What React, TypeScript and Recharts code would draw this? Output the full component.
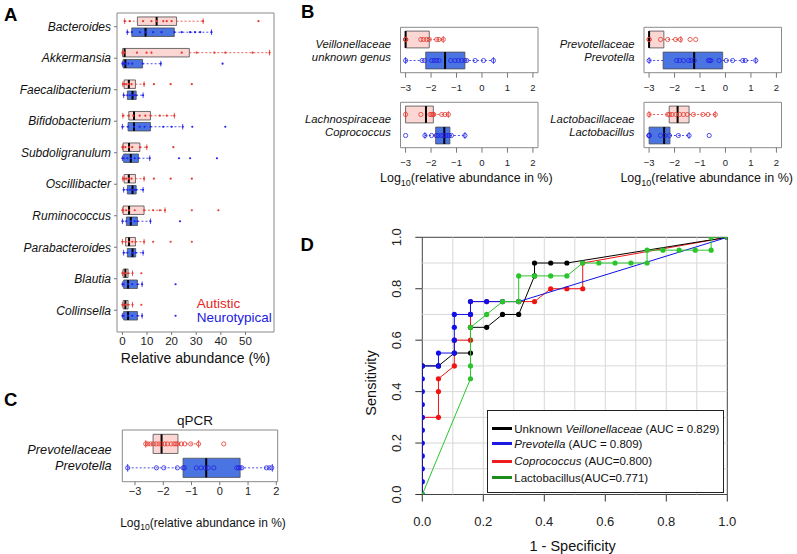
import { ScatterChart, Scatter, XAxis, YAxis, ReferenceArea, ReferenceLine, Legend } from "recharts";

const FONT = '"Liberation Sans", Arial, Helvetica, sans-serif';

const RED = "#e4392f";
const BLUE = "#2323e6";
const PINK_FILL = "#fcd6d3";
const BLUE_FILL = "#4a74e2";
const BOX_EDGE = "#4d4d4d";
const FRAME = "#8a8a8a";

// ---- A: relative abundance (%) of the top genera
const genera = [
  "Bacteroides", "Akkermansia", "Faecalibacterium", "Bifidobacterium", "Subdoligranulum",
  "Oscillibacter", "Ruminococcus", "Parabacteroides", "Blautia", "Collinsella",
];
// [whisker low, Q1, median, Q3, whisker high]
const autisticBoxA = [
  [0.9, 6.1, 13.9, 22.0, 32.8],
  [0.0, 0.1, 0.9, 27.2, 59.8],
  [0.2, 0.7, 2.6, 5.3, 8.8],
  [0.2, 2.6, 4.7, 11.4, 21.1],
  [0.0, 0.3, 2.7, 7.1, 9.9],
  [0.2, 0.7, 2.6, 5.3, 8.8],
  [0.0, 0.3, 2.7, 8.8, 17.3],
  [0.0, 1.3, 2.7, 5.3, 8.8],
  [0.0, 0.3, 1.2, 2.3, 4.1],
  [0.0, 0.3, 1.2, 2.3, 4.1],
];
const neuroBoxA = [
  [2.0, 3.8, 9.4, 21.1, 36.2],
  [0.0, 0.3, 1.2, 8.2, 15.6],
  [0.5, 2.0, 4.1, 5.6, 8.4],
  [0.0, 2.3, 4.7, 11.4, 24.5],
  [0.0, 0.5, 3.4, 6.5, 11.1],
  [0.5, 2.0, 4.1, 5.6, 8.4],
  [0.0, 1.6, 3.4, 6.1, 11.4],
  [0.5, 2.0, 4.1, 5.4, 8.4],
  [0.0, 0.5, 2.3, 6.1, 8.0],
  [0.0, 0.5, 2.3, 6.1, 8.0],
];
const autisticPtsA = [
  [0.9, 3.0, 8.4, 11.8, 13.9, 16.6, 18.0, 20.0, 32.8, 55.3],
  [0.0, 0.3, 0.9, 5.9, 9.8, 11.8, 24.1, 30.2, 37.4, 41.8, 52.9, 59.8],
  [0.2, 0.7, 1.5, 2.6, 3.7, 8.8, 12.8, 19.6, 28.2],
  [0.2, 2.6, 4.4, 7.0, 9.3, 11.4, 15.2, 18.0, 21.1],
  [0.0, 0.3, 1.2, 2.7, 4.0, 7.1, 9.9, 20.7],
  [0.2, 0.7, 1.5, 2.6, 3.7, 8.8, 12.8, 19.6, 28.2],
  [0.0, 0.3, 1.5, 2.7, 5.0, 8.8, 12.5, 15.2, 17.3, 28.2, 39.0],
  [0.0, 1.3, 2.7, 4.0, 5.3, 8.8, 12.5, 19.6, 28.2],
  [0.0, 0.3, 1.2, 2.3, 4.1, 7.7],
  [0.0, 0.3, 1.2, 2.3, 4.1, 7.7],
];
const neuroPtsA = [
  [2.0, 3.8, 7.1, 9.4, 12.5, 15.9, 21.1, 24.1, 27.5, 29.5, 31.6, 36.2],
  [0.0, 0.3, 0.8, 1.2, 2.5, 4.0, 8.2, 15.6, 40.7],
  [0.5, 2.0, 3.0, 4.1, 5.0, 5.6, 8.4],
  [0.0, 2.3, 4.7, 7.0, 9.0, 11.4, 16.6, 20.0, 24.5, 28.4, 41.8],
  [0.0, 0.5, 2.0, 3.4, 5.0, 6.5, 11.1, 23.0, 27.5, 38.4],
  [0.5, 2.0, 3.0, 4.1, 5.0, 5.6, 8.4],
  [0.0, 1.6, 3.4, 5.0, 6.1, 11.4, 23.4],
  [0.5, 2.0, 4.1, 5.4, 8.4],
  [0.0, 0.5, 2.3, 4.0, 6.1, 8.0, 21.6],
  [0.0, 0.5, 2.3, 4.0, 6.1, 8.0, 21.6],
];
const ticksA = [0, 10, 20, 30, 40, 50];

// ---- B: log10 abundance of the four discriminating taxa
const taxaB = [
  ["Veillonellaceae", "unknown genus"],
  ["Prevotellaceae", "Prevotella"],
  ["Lachnospiraceae", "Coprococcus"],
  ["Lactobacillaceae", "Lactobacillus"],
];
const autisticBoxB = [
  [-3, -3, -3, -2.07, -1.52],
  [-3, -3, -3, -2.42, -1.75],
  [-3, -3, -2.2, -1.91, -1.32],
  [-3, -2.21, -1.88, -1.43, -0.4],
];
const neuroBoxB = [
  [-3, -2.21, -1.45, -0.67, 0.45],
  [-3, -2.45, -1.23, -0.11, 1.19],
  [-2.24, -1.82, -1.48, -1.26, -0.67],
  [-3, -3, -2.41, -2.18, -1.43],
];
const autisticPtsB = [
  [-3, -3, -3, -2.4, -2.3, -2.17, -2.07, -1.78, -1.69, -1.52],
  [-3, -3, -2.55, -2.27, -1.96, -1.77, -1.39, -1.17],
  [-3, -2.4, -2.04, -1.98, -1.93, -1.89, -1.58, -1.45, -1.32],
  [-3, -2.27, -2.2, -2.1, -1.95, -1.8, -1.65, -1.5, -1.26, -0.89, -0.69, -0.4],
];
const neuroPtsB = [
  [-3, -2.35, -2.25, -1.98, -1.88, -1.78, -1.68, -1.23, -1.06, -0.93, -0.8, -0.67, -0.6, -0.27, 0.06, 0.45],
  [-3, -1.92, -1.8, -1.65, -1.45, -1.35, -1.23, -0.67, -0.62, -0.57, -0.25, 0.03, 0.28, 0.68, 0.78, 1.19],
  [-3, -2.24, -1.98, -1.8, -1.72, -1.6, -1.5, -1.42, -1.35, -1.28, -1.2, -0.67],
  [-3, -3, -3, -2.55, -2.38, -2.2, -1.85, -1.43, -0.64],
];
const logTicksB = [-3, -2, -1, 0, 1, 2];

// ---- C: qPCR of Prevotella
const taxonC = ["Prevotellaceae", "Prevotella"];
const autisticBoxC = [-2.62, -2.36, -2.06, -1.48, -0.75];
const neuroBoxC = [-3.26, -1.3, -0.48, 0.72, 1.86];
const autisticPtsC = [-2.62, -2.55, -2.45, -2.35, -2.25, -2.15, -2.06, -1.95, -1.85, -1.72, -1.62, -1.55, -1.48, -1.36, -1.24, -1.03, -0.75, 0.14];
const neuroPtsC = [-3.26, -2.24, -1.98, -1.5, -1.3, -1.25, -0.83, -0.66, -0.52, -0.41, -0.21, 0.6, 0.66, 0.72, 0.78, 1.65, 1.75, 1.84];
const logTicksC = [-3, -2, -1, 0, 1, 2];

// ---- D: ROC curves
const fprVeil = [0, 0, 0.053, 0.105, 0.158, 0.158, 0.211, 0.263, 0.316, 0.368, 0.368, 0.421, 0.474, 1];
const tprVeil = [0, 0.5, 0.5, 0.55, 0.55, 0.65, 0.65, 0.7, 0.7, 0.85, 0.9, 0.9, 0.9, 1];
const fprPrev = [0, 0, 0, 0, 0, 0, 0, 0, 0, 0, 0, 0.053, 0.053, 0.105, 0.105, 0.105, 0.105, 0.158, 0.158, 0.211, 0.263, 0.316, 1];
const tprPrev = [0, 0.05, 0.1, 0.15, 0.2, 0.25, 0.3, 0.35, 0.4, 0.45, 0.5, 0.5, 0.55, 0.55, 0.6, 0.65, 0.7, 0.7, 0.75, 0.75, 0.75, 0.75, 1];
const fprCopro = [0, 0, 0.053, 0.053, 0.053, 0.105, 0.105, 0.158, 0.158, 0.158, 0.158, 0.211, 0.263, 0.316, 0.368, 0.421, 0.474, 0.526, 0.526, 1];
const tprCopro = [0, 0.3, 0.3, 0.4, 0.45, 0.5, 0.6, 0.6, 0.65, 0.7, 0.75, 0.75, 0.75, 0.75, 0.75, 0.8, 0.8, 0.8, 0.9, 1];
const fprLacto = [0, 0.158, 0.158, 0.158, 0.211, 0.263, 0.316, 0.316, 0.368, 0.421, 0.474, 0.526, 0.579, 0.632, 0.684, 0.737, 0.737, 0.789, 0.842, 0.895, 0.947, 0.947, 1];
const tprLacto = [0, 0.45, 0.5, 0.65, 0.7, 0.75, 0.75, 0.85, 0.85, 0.85, 0.85, 0.9, 0.9, 0.9, 0.9, 0.9, 0.95, 0.95, 0.95, 0.95, 0.95, 1, 1];
const rocPre = ["Unknown ", "", "", ""];
const rocName = ["Veillonellaceae", "Prevotella", "Coprococcus", "Lactobacillus"];
const rocItalic = [true, true, true, false];
const rocAuc = [" (AUC = 0.829)", " (AUC = 0.809)", " (AUC=0.800)", "(AUC=0.771)"];
const rocColors = ["#000000", "#1010e8", "#f01414", "#2cc42c"];
const rocLegendColors = ["#000000", "#1c1ce0", "#ee1c1c", "#1d8c1d"];
const rocTicks = [0, 0.2, 0.4, 0.6, 0.8, 1];
const rocGrid = [0.1, 0.2, 0.3, 0.4, 0.5, 0.6, 0.7, 0.8, 0.9];

type BoxRow = { y: number; stats: number[]; pts: number[]; autistic: boolean };

const toPoints = (xs: number[], ys: number[]) => xs.map((x, i) => ({ x, y: ys[i] }));
const minus = (v: number) => String(v).replace("-", "\u2212");

function boxMarks(id: string, r: BoxRow, half: number, cap: number) {
  const [lo, q1, med, q3, hi] = r.stats;
  const y = r.y;
  const wc = r.autistic ? RED : BLUE;
  return [
    <ReferenceLine key={id + "wl"} segment={[{ x: lo, y }, { x: q1, y }]} stroke={wc} strokeWidth={0.8} strokeDasharray="2 2" ifOverflow="visible" />,
    <ReferenceLine key={id + "wh"} segment={[{ x: q3, y }, { x: hi, y }]} stroke={wc} strokeWidth={0.8} strokeDasharray="2 2" ifOverflow="visible" />,
    <ReferenceLine key={id + "cl"} segment={[{ x: lo, y: y - cap }, { x: lo, y: y + cap }]} stroke={wc} strokeWidth={0.8} ifOverflow="visible" />,
    <ReferenceLine key={id + "ch"} segment={[{ x: hi, y: y - cap }, { x: hi, y: y + cap }]} stroke={wc} strokeWidth={0.8} ifOverflow="visible" />,
    <ReferenceArea key={id + "b"} x1={q1} x2={q3} y1={y - half} y2={y + half} fill={r.autistic ? PINK_FILL : BLUE_FILL} fillOpacity={1} stroke={BOX_EDGE} strokeWidth={0.8} ifOverflow="visible" />,
    <ReferenceLine key={id + "m"} segment={[{ x: med, y: y - half }, { x: med, y: y + half }]} stroke="#000" strokeWidth={2} ifOverflow="visible" />,
  ];
}

const smallDot = (color: string) => (p: any) => <circle cx={p.cx} cy={p.cy} r={1.1} fill={color} />;
const ring = (color: string) => (p: any) => <circle cx={p.cx} cy={p.cy} r={2.1} fill="none" stroke={color} strokeWidth={0.8} />;

function twoLineTick(lines: string[], fontSize: number, d1: number, d2: number) {
  return (p: any) => (
    <text x={p.x} y={p.y} textAnchor="end" fontSize={fontSize} fontStyle="italic" fill="#111">
      <tspan x={p.x} y={p.y + d1}>{lines[0]}</tspan>
      <tspan x={p.x} y={p.y + d2}>{lines[1]}</tspan>
    </text>
  );
}

type PanelProps = {
  left: number; top: number; width: number; height: number;
  margin: { top: number; right: number; bottom: number; left: number };
  xDomain: [number, number]; yDomain: [number, number];
  xTicks: number[]; yTicks: number[];
  rows: BoxRow[]; half: number; cap: number; rings: boolean;
  xFont: number; xTickSize: number; xTickMargin: number; xFormat?: (v: number) => string;
  yTick: any; yFormat?: (v: number) => string; yTickLine: boolean; yTickSize: number; yTickMargin: number;
};

function BoxPanel(p: PanelProps) {
  const red = p.rows.filter((r) => r.autistic).flatMap((r) => r.pts.map((x) => ({ x, y: r.y })));
  const blue = p.rows.filter((r) => !r.autistic).flatMap((r) => r.pts.map((x) => ({ x, y: r.y })));
  return (
    <div style={{ position: "absolute", left: p.left, top: p.top }}>
      <ScatterChart width={p.width} height={p.height} margin={p.margin}>
        <XAxis type="number" dataKey="x" domain={p.xDomain} ticks={p.xTicks} interval={0} allowDataOverflow
          height={30} axisLine={false} tickLine={{ stroke: "#777" }} tickSize={p.xTickSize} tickMargin={p.xTickMargin}
          tickFormatter={p.xFormat} tick={{ fontSize: p.xFont, fill: "#222" }} />
        <YAxis type="number" dataKey="y" domain={p.yDomain} ticks={p.yTicks} interval={0} allowDataOverflow reversed
          width={100} axisLine={false} tickLine={p.yTickLine ? { stroke: "#777" } : false} tickSize={p.yTickSize}
          tickMargin={p.yTickMargin} tick={p.yTick} tickFormatter={p.yFormat} />
        {p.rows.flatMap((r, i) => boxMarks("r" + i, r, p.half, p.cap))}
        <Scatter data={red} shape={p.rings ? ring(RED) : smallDot(RED)} isAnimationActive={false} />
        <Scatter data={blue} shape={p.rings ? ring(BLUE) : smallDot(BLUE)} isAnimationActive={false} />
        <ReferenceArea x1={p.xDomain[0]} x2={p.xDomain[1]} y1={p.yDomain[0]} y2={p.yDomain[1]} fill="none" stroke={FRAME} strokeWidth={1} ifOverflow="visible" />
      </ScatterChart>
    </div>
  );
}

const rowsA: BoxRow[] = genera.flatMap((_, i) => [
  { y: i - 0.175, stats: autisticBoxA[i], pts: autisticPtsA[i], autistic: true },
  { y: i + 0.175, stats: neuroBoxA[i], pts: neuroPtsA[i], autistic: false },
]);

const pairRows = (aBox: number[], aPts: number[], nBox: number[], nPts: number[]): BoxRow[] => [
  { y: 1, stats: aBox, pts: aPts, autistic: true },
  { y: 2, stats: nBox, pts: nPts, autistic: false },
];

const bPos = [
  { left: 290, top: 0, ml: 10.5, mr: 12 },
  { left: 534, top: 0, ml: 10, mr: 12.5 },
  { left: 290, top: 75, ml: 10.5, mr: 12 },
  { left: 534, top: 75, ml: 10, mr: 12.5 },
];

function RocLegend() {
  const centers = [17.5, 32.7, 50, 66.7];
  return (
    <div style={{ position: "relative", width: 237.3, height: 82.7, border: "1px solid #222", boxSizing: "border-box", background: "#fff", fontFamily: FONT, fontSize: 11.5, color: "#111" }}>
      {rocName.map((n, i) => (
        <div key={n} style={{ position: "absolute", left: 4, top: centers[i] - 8, height: 16, display: "flex", alignItems: "center", whiteSpace: "pre" }}>
          <span style={{ display: "inline-block", width: 20, height: 3, background: rocLegendColors[i], marginRight: 2.6 }} />
          <span style={{ whiteSpace: "pre" }}>{rocPre[i]}</span>
          <span style={{ fontStyle: rocItalic[i] ? "italic" : "normal" }}>{n}</span>
          <span style={{ whiteSpace: "pre" }}>{rocAuc[i]}</span>
        </div>
      ))}
    </div>
  );
}

const rocSeries = [
  { name: rocName[2], pts: toPoints(fprCopro, tprCopro), color: rocColors[2] },
  { name: rocName[0], pts: toPoints(fprVeil, tprVeil), color: rocColors[0] },
  { name: rocName[1], pts: toPoints(fprPrev, tprPrev), color: rocColors[1] },
  { name: rocName[3], pts: toPoints(fprLacto, tprLacto), color: rocColors[3] },
];

const rotatedTick = (p: any) => (
  <text x={p.x - 14.5} y={p.y} transform={`rotate(-90, ${p.x - 14.5}, ${p.y})`} textAnchor="middle" fontSize={13} fill="#222">
    {Number(p.payload.value).toFixed(1)}
  </text>
);

function LogTitle({ x, y, size }: { x: number; y: number; size: number }) {
  return (
    <text x={x} y={y} textAnchor="middle" fontSize={size} fill="#111">
      Log<tspan fontSize={size * 0.72} dy={size * 0.32}>10</tspan>
      <tspan dy={-size * 0.32}>(relative abundance in %)</tspan>
    </text>
  );
}

export default function App() {
  return (
    <div style={{ position: "absolute", left: 0, top: 0, width: 797, height: 554, background: "#fff", fontFamily: FONT, overflow: "hidden" }}>
      <BoxPanel left={0} top={0} width={290} height={375} margin={{ top: 13, right: 16, bottom: 13, left: 17 }}
        xDomain={[-2.2, 61.6]} yDomain={[-0.435, 9.69]} xTicks={ticksA} yTicks={genera.map((_, i) => i)}
        rows={rowsA} half={0.135} cap={0.09} rings={false}
        xFont={11.5} xTickSize={3} xTickMargin={2}
        yTick={{ fontSize: 12, fontStyle: "italic", fill: "#111" }}
        yFormat={(v: number) => genera[Math.round(v)] ?? ""}
        yTickLine={true} yTickSize={3} yTickMargin={3} />
      {taxaB.map((t, i) => (
        <BoxPanel key={t[1]} left={bPos[i].left} top={bPos[i].top} width={260} height={100}
          margin={{ top: 27.3, right: bPos[i].mr, bottom: -2.7, left: bPos[i].ml }}
          xDomain={[-3.2, 2.2]} yDomain={[0.42, 2.58]} xTicks={logTicksB} yTicks={[1.5]}
          rows={pairRows(autisticBoxB[i], autisticPtsB[i], neuroBoxB[i], neuroPtsB[i])} half={0.4} cap={0.16} rings={true}
          xFont={9.5} xTickSize={5} xTickMargin={7} xFormat={minus}
          yTick={twoLineTick(t, 11.3, -2.3, 11.2)} yTickLine={false} yTickSize={0} yTickMargin={9.5} />
      ))}
      <BoxPanel left={0} top={400} width={300} height={110} margin={{ top: 30, right: 22.3, bottom: -1.7, left: 22.3 }}
        xDomain={[-3.45, 2.05]} yDomain={[0.42, 2.58]} xTicks={logTicksC} yTicks={[1.5]}
        rows={pairRows(autisticBoxC, autisticPtsC, neuroBoxC, neuroPtsC)} half={0.4} cap={0.16} rings={true}
        xFont={11} xTickSize={3.5} xTickMargin={1.5} xFormat={minus}
        yTick={twoLineTick(taxonC, 12.75, -2.3, 14.6)} yTickLine={false} yTickSize={0} yTickMargin={10.6} />

      <div style={{ position: "absolute", left: 330, top: 225 }}>
        <ScatterChart width={420} height={329} margin={{ top: 12.3, right: 22.7, bottom: 29.5, left: 32.3 }}>
          <XAxis type="number" dataKey="x" domain={[0, 1]} ticks={rocTicks} interval={0} allowDataOverflow height={30}
            axisLine={false} tickLine={{ stroke: "#333" }} tickSize={7} tickMargin={15.5}
            tickFormatter={(v: number) => v.toFixed(1)} tick={{ fontSize: 13, fill: "#222" }} />
          <YAxis type="number" dataKey="y" domain={[0, 1]} ticks={rocTicks} interval={0} allowDataOverflow width={60}
            axisLine={false} tickLine={{ stroke: "#333" }} tickSize={7} tickMargin={0} tick={rotatedTick} />
          {rocGrid.map((v) => (
            <ReferenceLine key={"gx" + v} x={v} stroke="#d8d8d8" strokeWidth={1} />
          ))}
          {rocGrid.map((v) => (
            <ReferenceLine key={"gy" + v} y={v} stroke="#d8d8d8" strokeWidth={1} />
          ))}
          {rocSeries.map((s) => (
            <Scatter key={s.name} name={s.name} data={s.pts} line={{ stroke: s.color, strokeWidth: 1 }} lineJointType="linear"
              shape={(p: any) => <circle cx={p.cx} cy={p.cy} r={2.6} fill={s.color} />} isAnimationActive={false} />
          ))}
          <ReferenceArea x1={0} x2={1} y1={0} y2={1} fill="none" stroke="#444" strokeWidth={1} ifOverflow="visible" />
          <Legend layout="horizontal" verticalAlign="middle" align="center" content={() => <RocLegend />}
            wrapperStyle={{ left: 156.7, top: 185, width: 237.3, height: 82.7 }} />
        </ScatterChart>
      </div>

      <svg width={797} height={554} style={{ position: "absolute", left: 0, top: 0, pointerEvents: "none" }} fontFamily={FONT}>
        <g fontSize={18.5} fontWeight="bold" fill="#000">
          <text x={4} y={20.5}>A</text>
          <text x={301} y={18.3}>B</text>
          <text x={4} y={406}>C</text>
          <text x={300.5} y={250.7}>D</text>
        </g>
        <text x={195.5} y={362.5} textAnchor="middle" fontSize={14} fill="#111">Relative abundance (%)</text>
        <text x={196.7} y={308} fontSize={13.5} fill="#e42525">Autistic</text>
        <text x={196.7} y={322} fontSize={13.5} fill="#2020e0">Neurotypical</text>
        <LogTitle x={466.3} y={181.7} size={12.5} />
        <LogTitle x={706.7} y={181.7} size={12.5} />
        <text x={195} y={424.5} textAnchor="middle" fontSize={13.5} fill="#111">qPCR</text>
        <LogTitle x={203} y={526.5} size={12} />
        <text x={572.6} y={550.8} textAnchor="middle" fontSize={14.5} fill="#111">1 - Specificity</text>
        <text x={375.5} y={383} transform="rotate(-90, 375.5, 383)" textAnchor="middle" fontSize={14.5} fill="#111">Sensitivity</text>
      </svg>
    </div>
  );
}
